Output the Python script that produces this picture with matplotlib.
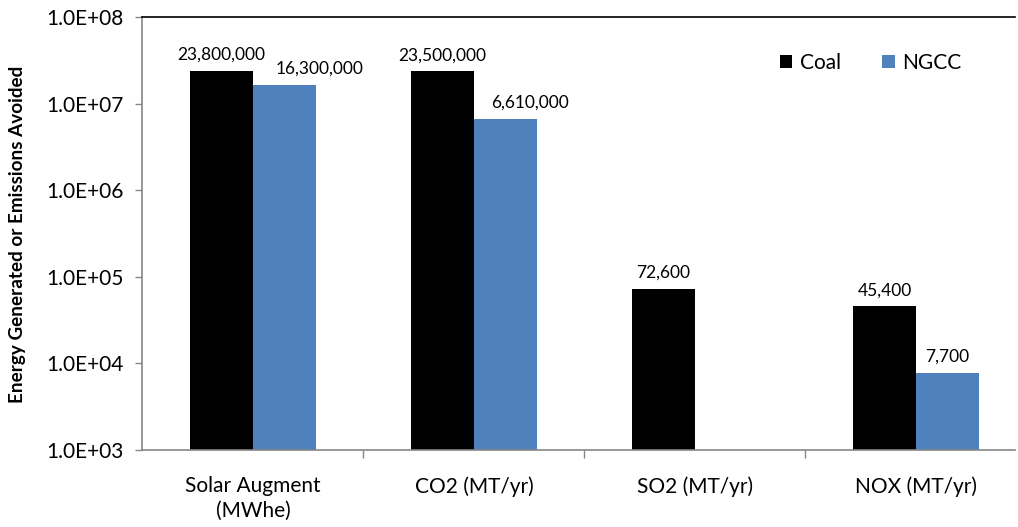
import matplotlib
matplotlib.use('Agg')
import matplotlib.pyplot as plt
import numpy as np

categories = ['Solar Augment\n(MWhe)', 'CO2 (MT/yr)', 'SO2 (MT/yr)', 'NOX (MT/yr)']
coal = [23800000, 23500000, 72600, 45400]
ngcc = [16300000, 6610000, 0, 7700]
series_names = ['Coal', 'NGCC']
ytick_vals = [1e3, 1e4, 1e5, 1e6, 1e7, 1e8]
ytick_labels = ['1.0E+03', '1.0E+04', '1.0E+05', '1.0E+06', '1.0E+07', '1.0E+08']

plt.rcParams['font.family'] = ['Lato', 'DejaVu Sans']

W, H = 1018, 527
fig = plt.figure(figsize=(W / 100, H / 100), dpi=100)
ax = fig.add_axes([142 / W, 1 - 450 / H, (1015 - 142) / W, (450 - 17) / H])

x = np.arange(len(categories))
bw = 0.285
ax.set_yscale('log')
ax.bar(x - bw / 2, coal, bw, color='black', label=series_names[0])
ngcc_plot = [v if v > 0 else np.nan for v in ngcc]
ax.bar(x + bw / 2, ngcc_plot, bw, color='#4F81BD', label=series_names[1])

# Excel nudged two NGCC labels to the right so they don't collide
ngcc_shift = [35, 25, 0, 0]

for xi, v in zip(x - bw / 2, coal):
    if v > 0:
        ax.annotate(f'{v:,}', (xi, v), xytext=(0, 8), textcoords='offset pixels',
                    ha='center', va='bottom', fontsize=12.5)
for xi, v, dx in zip(x + bw / 2, ngcc, ngcc_shift):
    if v > 0:
        ax.annotate(f'{v:,}', (xi, v), xytext=(dx, 9), textcoords='offset pixels',
                    ha='center', va='bottom', fontsize=12.5)

ax.set_ylim(1e3, 1e8)
ax.set_xlim(-0.502, 3.448)
ax.set_yticks(ytick_vals)
ax.set_yticklabels(ytick_labels, fontsize=15)
ax.yaxis.set_minor_locator(matplotlib.ticker.NullLocator())
ax.tick_params(axis='y', which='major', length=5, width=1, color='#868686', pad=8)

ax.set_xticks([0.5, 1.5, 2.5])
ax.set_xticklabels([])
ax.set_xticks(x, minor=True)
ax.set_xticklabels(categories, minor=True, fontsize=15, linespacing=1.3)
ax.tick_params(axis='x', which='major', length=6, width=1, color='#868686')
ax.tick_params(axis='x', which='minor', length=0, pad=19)

for s in ['left', 'bottom']:
    ax.spines[s].set_color('#868686')
    ax.spines[s].set_linewidth(1.2)
ax.spines['right'].set_visible(False)
ax.spines['top'].set_color('black')
ax.spines['top'].set_linewidth(1.2)

ax.legend(loc='upper left', bbox_to_anchor=(761 / W, 1 - 34 / H), bbox_transform=fig.transFigure,
          ncol=2, frameon=False, fontsize=15, handlelength=0.6, handleheight=0.6,
          handletextpad=0.35, columnspacing=2.0)

fig.text(18 / W, 1 - 234 / H, 'Energy Generated or Emissions Avoided', rotation=90,
         ha='center', va='center', fontsize=13.6, fontweight='bold')

fig.savefig('out.png', dpi=100)
